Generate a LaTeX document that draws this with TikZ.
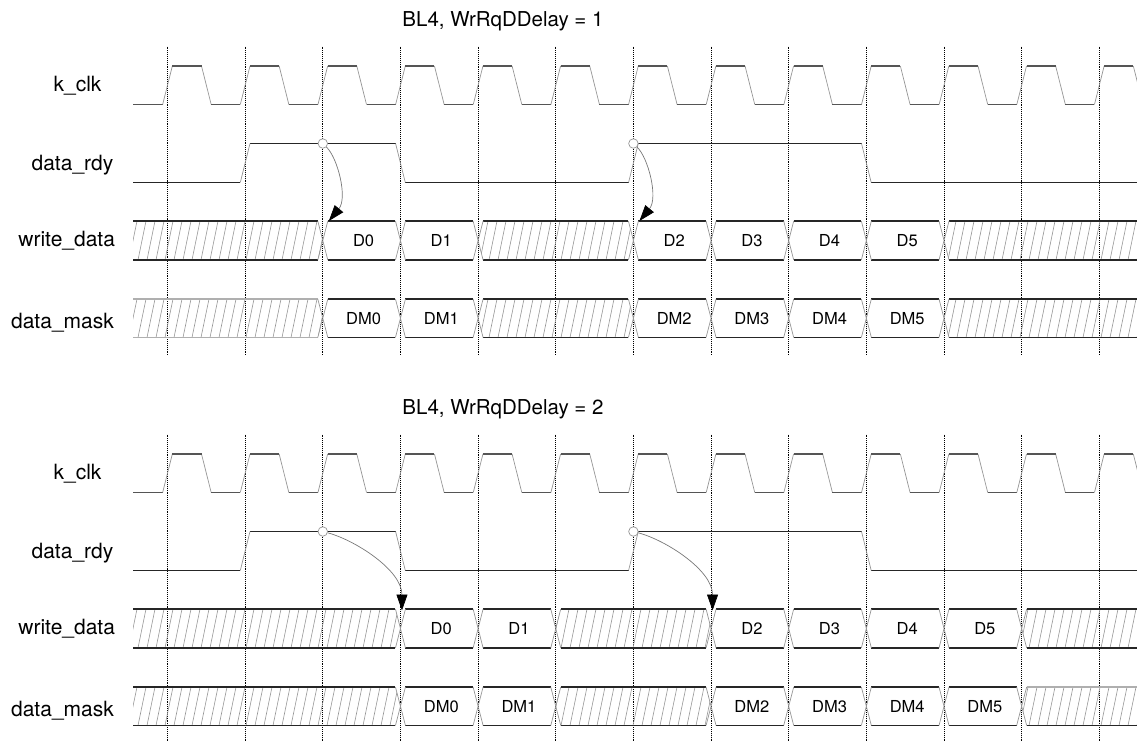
\documentclass[tikz,border=0pt]{standalone}
\usepackage{fontspec}
\setmainfont{TeX Gyre Heros}
\usetikzlibrary{arrows.meta}
\definecolor{edgegray}{RGB}{150,150,150}
\definecolor{clkdark}{RGB}{85,85,85}
\definecolor{hatchgray}{RGB}{150,150,150}
\definecolor{buslight}{RGB}{175,175,175}
\definecolor{lnkgray}{RGB}{120,120,120}
\newcommand\Lx[1]{(167.5+77.65*(#1))}
\tikzset{
  lvl/.style={line width=1.5pt, draw=black!85},
  glvl/.style={line width=1.2pt, draw=buslight},
  clklvl/.style={line width=1.7pt, draw=clkdark},
  edg/.style={line width=0.7pt, draw=edgegray},
  hatchln/.style={line width=0.6pt, draw=hatchgray},
  gridln/.style={densely dotted, line width=0.9pt, draw=black},
  sig/.style={font=\fontsize{21}{25}\selectfont, anchor=base, inner sep=0pt},
  val/.style={font=\fontsize{16.5}{20}\selectfont, anchor=base, inner sep=0pt},
  ttl/.style={font=\fontsize{20.5}{24}\selectfont, anchor=base, inner sep=0pt},
  pt/.style={circle, draw=edgegray, fill=white, line width=0.7pt, inner sep=0pt, minimum size=9.5pt},
  lnk/.style={draw=lnkgray, line width=0.7pt, -{Triangle[length=16pt,width=11pt,color=black]}},
}
\newcommand\hatchseg[6]{%
  \pgfmathsetmacro\hlt{ifthenelse(#1<0,133,\Lx{#1}+5)}%
  \pgfmathsetmacro\hlm{ifthenelse(#1<0,133,\Lx{#1})}%
  \pgfmathsetmacro\hrt{ifthenelse(#2>20,1150,\Lx{#2}-5)}%
  \pgfmathsetmacro\hrm{ifthenelse(#2>20,1150,\Lx{#2})}%
  \pgfmathsetmacro\hmid{(#3+#4)/2}%
  \begin{scope}
    \clip (\hlt,#3) -- (\hrt,#3) -- (\hrm,\hmid) -- (\hrt,#4) -- (\hlt,#4) -- (\hlm,\hmid) -- cycle;
    \foreach \hx in {120,129,...,1150} \draw[hatchln] (\hx,#4) -- (\hx+8,#3);
  \end{scope}
  \draw[#5] (\hlt,#3) -- (\hrt,#3);
  \draw[#6] (\hlt,#4) -- (\hrt,#4);
}
\newcommand\valseg[6]{%
  \draw[lvl] ({\Lx{#1}+5},#3) -- ({\Lx{#2}-5},#3) ({\Lx{#1}+5},#4) -- ({\Lx{#2}-5},#4);
  \node[val] (#5) at ({(\Lx{#1}+\Lx{#2})/2+2},{(#3+#4)/2+6}) {#6};
}
\newcommand\busrow[7]{%
  \hatchseg{-1}{2+#2}{#3}{#4}{#6}{#6}
  \valseg{2+#2}{3+#2}{#3}{#4}{#1v0}{#50}
  \valseg{3+#2}{4+#2}{#3}{#4}{#1v1}{#51}
  \hatchseg{4+#2}{6+#2}{#3}{#4}{lvl}{lvl}
  \valseg{6+#2}{7+#2}{#3}{#4}{#1v2}{#52}
  \valseg{7+#2}{8+#2}{#3}{#4}{#1v3}{#53}
  \valseg{8+#2}{9+#2}{#3}{#4}{#1v4}{#54}
  \valseg{9+#2}{10+#2}{#3}{#4}{#1v5}{#55}
  \hatchseg{10+#2}{99}{#3}{#4}{#7}{lvl}
  \foreach \i in {2,3,4,6,7,8,9,10} {
    \draw[edg] ({\Lx{\i+#2}-5},#3) -- ({\Lx{\i+#2}+5},#4)
               ({\Lx{\i+#2}-5},#4) -- ({\Lx{\i+#2}+5},#3);
  }
}
\newcommand\tdiagram[5]{%
  \node[ttl] (#1title) at (503,26.5) {#3};
  \node[sig] (#1lclk) at (77.5,91.7) {k\_clk};
  \node[sig] (#1lrdy) at (72.5,170) {data\_rdy};
  \node[sig] (#1lwd) at (66.7,246.7) {write\_data};
  \node[sig] (#1ldm) at (62.5,328) {data\_mask};
  \foreach \k in {0,...,12} \draw[gridln] ({\Lx{\k}},46.5) -- ({\Lx{\k}},355);
  % clock
  \draw[clklvl] (133,104.5) -- ({\Lx{0}-4.85},104.5);
  \foreach \k in {0,...,12} {
    \draw[edg] ({\Lx{\k}-4.85},104.5) -- ({\Lx{\k}+4.85},66) ({\Lx{\k}+34},66) -- ({\Lx{\k}+43.7},104.5);
    \draw[clklvl] ({\Lx{\k}+4.85},66) -- ({\Lx{\k}+34},66) ({\Lx{\k}+43.7},104.5) -- ({\Lx{\k}+72.8},104.5);
  }
  % data_rdy
  \draw[lvl] (133,182.5) -- ({\Lx{1}-4.85},182.5)
    ({\Lx{1}+4.85},143.5) -- ({\Lx{3}-4.85},143.5)
    ({\Lx{3}+4.85},182.5) -- ({\Lx{6}-4.85},182.5)
    ({\Lx{6}+4.85},143.5) -- ({\Lx{9}-4.85},143.5)
    ({\Lx{9}+4.85},182.5) -- (1150,182.5);
  \draw[edg] ({\Lx{1}-4.85},182.5) -- ({\Lx{1}+4.85},143.5)
    ({\Lx{3}-4.85},143.5) -- ({\Lx{3}+4.85},182.5)
    ({\Lx{6}-4.85},182.5) -- ({\Lx{6}+4.85},143.5)
    ({\Lx{9}-4.85},143.5) -- ({\Lx{9}+4.85},182.5);
  % buses
  \busrow{#1wd}{#2}{221}{260}{D}{lvl}{lvl}
  \busrow{#1dm}{#2}{299}{337.5}{DM}{#4}{#5}
  % markers and arrows
  \node[pt] (#1c1) at ({\Lx{2}},143.5) {};
  \node[pt] (#1c2) at ({\Lx{6}},143.5) {};
  \ifnum#2=0
    \coordinate (#1t1) at ({\Lx{2}+6},221);
    \coordinate (#1t2) at ({\Lx{6}+6},221);
    \draw[lnk] (#1c1) .. controls ({\Lx{2}+15},158) and ({\Lx{2}+25},198) .. (#1t1);
    \draw[lnk] (#1c2) .. controls ({\Lx{6}+15},158) and ({\Lx{6}+25},198) .. (#1t2);
  \else
    \coordinate (#1t1) at ({\Lx{3}+1.5},222.5);
    \coordinate (#1t2) at ({\Lx{7}+1.5},222.5);
    \draw[lnk] (#1c1) .. controls ({\Lx{2}+32},152) and ({\Lx{3}+1.5},182) .. (#1t1);
    \draw[lnk] (#1c2) .. controls ({\Lx{6}+32},152) and ({\Lx{7}+1.5},182) .. (#1t2);
  \fi
}
\begin{document}
\begin{tikzpicture}[x=1pt,y=-1pt]
  \useasboundingbox (0,0) rectangle (1137,740);
  \clip (0,0) rectangle (1137,740);
  \tdiagram{a}{0}{BL4, WrRqDDelay = 1}{glvl}{lvl}
  \begin{scope}[yshift=-388pt]
    \tdiagram{b}{1}{BL4, WrRqDDelay = 2}{lvl}{glvl}
  \end{scope}
\end{tikzpicture}
\end{document}
